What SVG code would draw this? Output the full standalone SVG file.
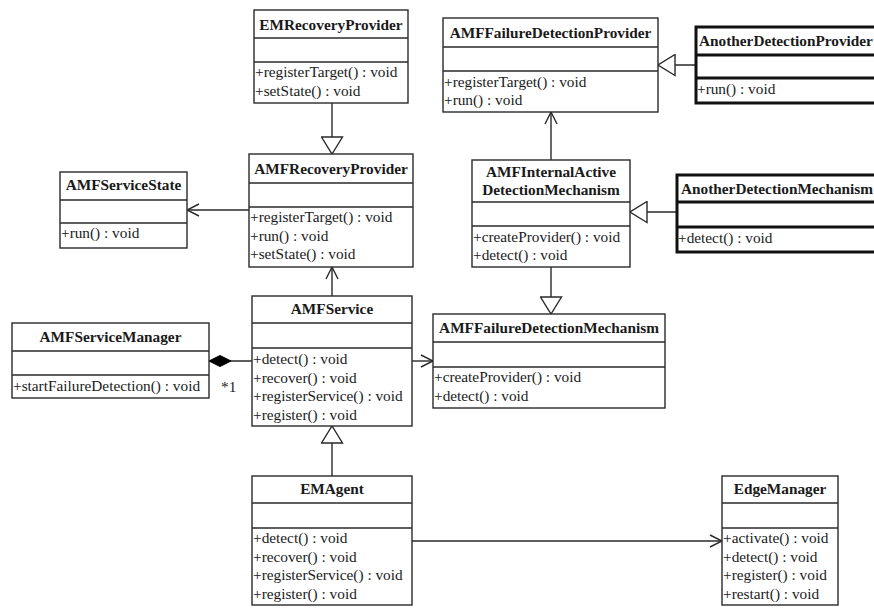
<svg xmlns="http://www.w3.org/2000/svg" width="874" height="608" viewBox="0 0 874 608">
  <style>
    .box { fill: #ffffff; stroke: #2a2a2a; stroke-width: 1.4; }
    .thick { stroke-width: 3; stroke: #111111; }
    .div { stroke: #2a2a2a; stroke-width: 1.4; }
    .divt { stroke: #111111; stroke-width: 3; }
    .name { font-family: "Liberation Serif", "Times New Roman", serif; font-size: 15.3px; font-weight: bold; fill: #1a1a1a; text-anchor: middle; }
    .op { font-family: "Liberation Serif", "Times New Roman", serif; font-size: 15.3px; fill: #1a1a1a; }
    .edge { fill: none; stroke: #2a2a2a; stroke-width: 1.4; }
  </style>
  <defs>
    <marker id="gen" markerUnits="userSpaceOnUse" viewBox="-1 -1 19 23" refX="17" refY="10.5" markerWidth="19" markerHeight="23" orient="auto">
      <path d="M0,0 L17,10.5 L0,21 Z" fill="#ffffff" stroke="#2a2a2a" stroke-width="1.4"/>
    </marker>
    <marker id="open" markerUnits="userSpaceOnUse" viewBox="-1 -1 14 14" refX="12" refY="6" markerWidth="14" markerHeight="14" orient="auto">
      <path d="M0,0 L12,6 L0,12" fill="none" stroke="#2a2a2a" stroke-width="1.4"/>
    </marker>
    <marker id="comp" markerUnits="userSpaceOnUse" viewBox="-1 -1 24 13" refX="0" refY="5.5" markerWidth="24" markerHeight="13" orient="auto">
      <path d="M0,5.5 L11,0 L22,5.5 L11,11 Z" fill="#000000" stroke="#000000" stroke-width="1"/>
    </marker>
  </defs>
  <rect width="874" height="608" fill="#ffffff"/>

  <!-- connectors -->
  <g id="connectors">
    <line class="edge" x1="332" y1="103" x2="332" y2="154" marker-end="url(#gen)"/>
    <line class="edge" x1="696" y1="65" x2="658" y2="65" marker-end="url(#gen)"/>
    <line class="edge" x1="551" y1="160" x2="551" y2="112" marker-end="url(#open)"/>
    <line class="edge" x1="677" y1="212" x2="630" y2="212" marker-end="url(#gen)"/>
    <line class="edge" x1="249" y1="210" x2="187" y2="210" marker-end="url(#open)"/>
    <line class="edge" x1="551" y1="267" x2="551" y2="314" marker-end="url(#gen)"/>
    <line class="edge" x1="332" y1="296" x2="332" y2="267" marker-end="url(#open)"/>
    <line class="edge" x1="209" y1="361" x2="252" y2="361" marker-start="url(#comp)"/>
    <line class="edge" x1="412" y1="361" x2="433" y2="361" marker-end="url(#open)"/>
    <line class="edge" x1="332" y1="476" x2="332" y2="426" marker-end="url(#gen)"/>
    <line class="edge" x1="412" y1="541" x2="722" y2="541" marker-end="url(#open)"/>
    <text class="op" x="221" y="392">*1</text>
  </g>

  <!-- classes -->
  <g id="EMRecoveryProvider">
    <rect class="box" x="254" y="10" width="154" height="93"/>
    <line class="div" x1="254" y1="38" x2="408" y2="38"/>
    <line class="div" x1="254" y1="62" x2="408" y2="62"/>
    <text class="name" x="331" y="30">EMRecoveryProvider</text>
    <text class="op" x="255" y="77">+registerTarget() : void</text>
    <text class="op" x="255" y="95.5">+setState() : void</text>
  </g>

  <g id="AMFRecoveryProvider">
    <rect class="box" x="249" y="154" width="164" height="113"/>
    <line class="div" x1="249" y1="183" x2="413" y2="183"/>
    <line class="div" x1="249" y1="207" x2="413" y2="207"/>
    <text class="name" x="331" y="174">AMFRecoveryProvider</text>
    <text class="op" x="250" y="222">+registerTarget() : void</text>
    <text class="op" x="250" y="240.5">+run() : void</text>
    <text class="op" x="250" y="259">+setState() : void</text>
  </g>

  <g id="AMFFailureDetectionProvider">
    <rect class="box" x="443" y="18" width="215" height="94"/>
    <line class="div" x1="443" y1="47" x2="658" y2="47"/>
    <line class="div" x1="443" y1="71" x2="658" y2="71"/>
    <text class="name" x="550.5" y="38">AMFFailureDetectionProvider</text>
    <text class="op" x="444" y="86.5">+registerTarget() : void</text>
    <text class="op" x="444" y="105">+run() : void</text>
  </g>

  <g id="AnotherDetectionProvider">
    <rect class="box thick" x="696" y="27" width="184" height="76"/>
    <line class="divt" x1="696" y1="55" x2="880" y2="55"/>
    <line class="divt" x1="696" y1="78" x2="880" y2="78"/>
    <text class="name" x="699" y="46" style="text-anchor:start">AnotherDetectionProvider</text>
    <text class="op" x="697" y="94">+run() : void</text>
  </g>

  <g id="AMFInternalActiveDetectionMechanism">
    <rect class="box" x="472" y="160" width="158" height="107"/>
    <line class="div" x1="472" y1="202" x2="630" y2="202"/>
    <line class="div" x1="472" y1="226" x2="630" y2="226"/>
    <text class="name" x="551" y="177">AMFInternalActive</text>
    <text class="name" x="551" y="195">DetectionMechanism</text>
    <text class="op" x="473" y="242">+createProvider() : void</text>
    <text class="op" x="473" y="260">+detect() : void</text>
  </g>

  <g id="AnotherDetectionMechanism">
    <rect class="box thick" x="677" y="175" width="203" height="77"/>
    <line class="divt" x1="677" y1="202" x2="880" y2="202"/>
    <line class="divt" x1="677" y1="227" x2="880" y2="227"/>
    <text class="name" x="681" y="194" style="text-anchor:start">AnotherDetectionMechanism</text>
    <text class="op" x="678" y="243">+detect() : void</text>
  </g>

  <g id="AMFServiceState">
    <rect class="box" x="60" y="172" width="127" height="76"/>
    <line class="div" x1="60" y1="200" x2="187" y2="200"/>
    <line class="div" x1="60" y1="223" x2="187" y2="223"/>
    <text class="name" x="123.5" y="190">AMFServiceState</text>
    <text class="op" x="61" y="238">+run() : void</text>
  </g>

  <g id="AMFServiceManager">
    <rect class="box" x="12" y="323" width="197" height="75"/>
    <line class="div" x1="12" y1="351" x2="209" y2="351"/>
    <line class="div" x1="12" y1="375" x2="209" y2="375"/>
    <text class="name" x="110.5" y="342">AMFServiceManager</text>
    <text class="op" x="13" y="391">+startFailureDetection() : void</text>
  </g>

  <g id="AMFService">
    <rect class="box" x="252" y="296" width="160" height="130"/>
    <line class="div" x1="252" y1="323" x2="412" y2="323"/>
    <line class="div" x1="252" y1="348" x2="412" y2="348"/>
    <text class="name" x="332" y="314">AMFService</text>
    <text class="op" x="253" y="364">+detect() : void</text>
    <text class="op" x="253" y="382.5">+recover() : void</text>
    <text class="op" x="253" y="401">+registerService() : void</text>
    <text class="op" x="253" y="419.5">+register() : void</text>
  </g>

  <g id="AMFFailureDetectionMechanism">
    <rect class="box" x="433" y="314" width="232" height="94"/>
    <line class="div" x1="433" y1="342" x2="665" y2="342"/>
    <line class="div" x1="433" y1="367" x2="665" y2="367"/>
    <text class="name" x="549" y="333">AMFFailureDetectionMechanism</text>
    <text class="op" x="434" y="382">+createProvider() : void</text>
    <text class="op" x="434" y="400.5">+detect() : void</text>
  </g>

  <g id="EMAgent">
    <rect class="box" x="252" y="476" width="160" height="129"/>
    <line class="div" x1="252" y1="503" x2="412" y2="503"/>
    <line class="div" x1="252" y1="528" x2="412" y2="528"/>
    <text class="name" x="332" y="494">EMAgent</text>
    <text class="op" x="253" y="543">+detect() : void</text>
    <text class="op" x="253" y="561.5">+recover() : void</text>
    <text class="op" x="253" y="580">+registerService() : void</text>
    <text class="op" x="253" y="598.5">+register() : void</text>
  </g>

  <g id="EdgeManager">
    <rect class="box" x="722" y="476" width="116" height="129"/>
    <line class="div" x1="722" y1="503" x2="838" y2="503"/>
    <line class="div" x1="722" y1="528" x2="838" y2="528"/>
    <text class="name" x="780" y="494">EdgeManager</text>
    <text class="op" x="723" y="543">+activate() : void</text>
    <text class="op" x="723" y="561.5">+detect() : void</text>
    <text class="op" x="723" y="580">+register() : void</text>
    <text class="op" x="723" y="598.5">+restart() : void</text>
  </g>
</svg>
